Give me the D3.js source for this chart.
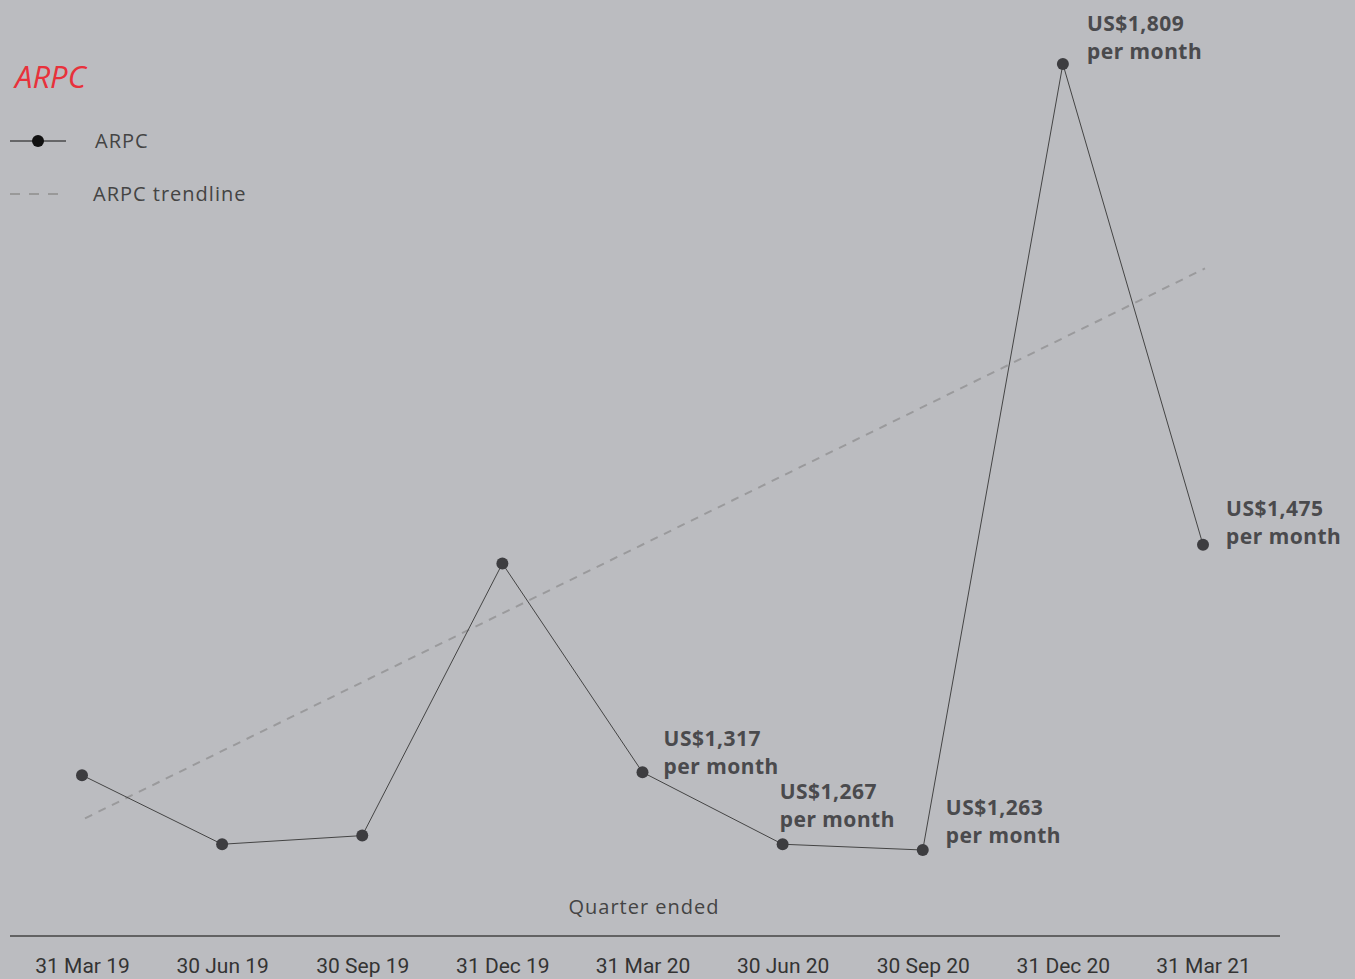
<!DOCTYPE html>
<html>
<head>
<meta charset="utf-8">
<script src="https://cdn.jsdelivr.net/npm/d3@7"></script>
<style>
  body { margin: 0; background: #bbbcc0; }
  svg { display: block; }
</style>
</head>
<body>
<script>
// data
const quarters = ["31 Mar 19", "30 Jun 19", "30 Sep 19", "31 Dec 19", "31 Mar 20",
  "30 Jun 20", "30 Sep 20", "31 Dec 20", "31 Mar 21"];
const arpc = [1315, 1267, 1273, 1462, 1317, 1267, 1263, 1809, 1475];
const trendStartEnd = [1285, 1667];
const labelled = ["31 Mar 20", "30 Jun 20", "30 Sep 20", "31 Dec 20", "31 Mar 21"];

const width = 1355;
const height = 979;

const svg = d3.select("body")
  .append("svg")
  .attr("width", width)
  .attr("height", height);

const x = d3.scalePoint()
  .domain(quarters)
  .range([82, 1203]);

const y = d3.scaleLinear()
  .domain([1263, 1809])
  .range([850, 64]);

// title
svg.append("text")
  .attr("x", 15)
  .attr("y", 88)
  .style("font-family", "'Open Sans', sans-serif")
  .style("font-style", "italic")
  .style("font-size", "31px")
  .style("fill", "#e8313b")
  .text("ARPC");

// legend
const legendFont = sel => sel
  .style("font-family", "'Open Sans', sans-serif")
  .style("font-size", "20px")
  .style("letter-spacing", "1px")
  .style("fill", "#444");

const legend = svg.append("g");
legend.append("line")
  .attr("x1", 10).attr("x2", 66).attr("y1", 141).attr("y2", 141)
  .style("stroke", "#111").style("stroke-width", 1);
legend.append("circle")
  .attr("cx", 38).attr("cy", 141).attr("r", 6)
  .style("fill", "#111");
legend.append("text")
  .attr("x", 95).attr("y", 148)
  .call(legendFont)
  .text("ARPC");
legend.append("line")
  .attr("x1", 10).attr("x2", 66).attr("y1", 194).attr("y2", 194)
  .style("stroke", "#999").style("stroke-width", 2)
  .style("stroke-dasharray", "10,9");
legend.append("text")
  .attr("x", 93).attr("y", 201)
  .call(legendFont)
  .text("ARPC trendline");

// trendline
svg.append("line")
  .attr("x1", x(quarters[0]) + 3)
  .attr("y1", y(trendStartEnd[0]))
  .attr("x2", x(quarters[quarters.length - 1]) + 2)
  .attr("y2", y(trendStartEnd[1]))
  .style("stroke", "#9a9a9c")
  .style("stroke-width", 2)
  .style("stroke-dasharray", "8,7");

// ARPC line
const line = d3.line()
  .x((d, i) => x(quarters[i]))
  .y(d => y(d));

svg.append("path")
  .datum(arpc)
  .attr("d", line)
  .style("fill", "none")
  .style("stroke", "#444")
  .style("stroke-width", 1);

svg.selectAll("circle.pt")
  .data(arpc)
  .enter()
  .append("circle")
  .attr("class", "pt")
  .attr("cx", (d, i) => x(quarters[i]))
  .attr("cy", d => y(d))
  .attr("r", 6)
  .style("fill", "#3d3d40");

// value labels
const offsets = {
  "31 Mar 20": [21, -26],
  "30 Jun 20": [-3, -45],
  "30 Sep 20": [23, -35],
  "31 Dec 20": [24, -33],
  "31 Mar 21": [23, -29]
};
labelled.forEach(q => {
  const i = quarters.indexOf(q);
  const px = x(q) + offsets[q][0];
  const py = y(arpc[i]) + offsets[q][1];
  const t = svg.append("text")
    .attr("x", px)
    .attr("y", py)
    .style("font-family", "'Noto Sans', sans-serif")
    .style("font-weight", "bold")
    .style("font-size", "21px")
    .style("letter-spacing", "0.5px")
    .style("fill", "#4a4a4d");
  t.append("tspan").attr("x", px).text("US$" + d3.format(",")(arpc[i]));
  t.append("tspan").attr("x", px).attr("dy", 28).text("per month");
});

// x axis
svg.append("text")
  .attr("x", 644)
  .attr("y", 914)
  .attr("text-anchor", "middle")
  .call(legendFont)
  .text("Quarter ended");

svg.append("line")
  .attr("x1", 10).attr("x2", 1280).attr("y1", 936).attr("y2", 936)
  .style("stroke", "#444").style("stroke-width", 1.5);

const axis = svg.append("g")
  .attr("transform", "translate(0,936)")
  .call(d3.axisBottom(x).tickSize(0).tickPadding(22));
axis.select(".domain").remove();
axis.selectAll("text")
  .style("font-family", "Roboto, sans-serif")
  .style("font-size", "21px")
  .style("fill", "#333");
</script>
</body>
</html>
